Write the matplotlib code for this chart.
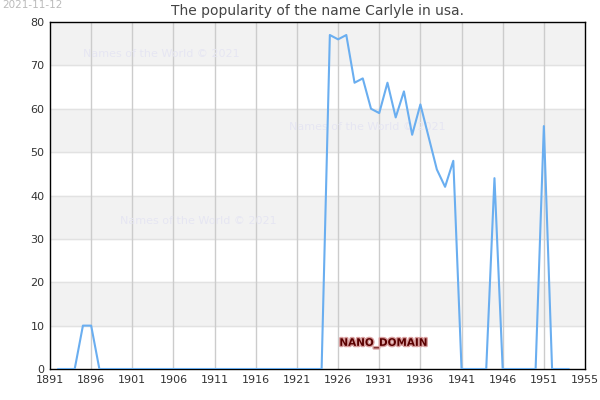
import matplotlib
matplotlib.use("Agg")
import matplotlib.pyplot as plt
import matplotlib.patheffects as pe

years = list(range(1892, 1956))
values = ([0, 0, 0, 10, 10] + [0] * 28 +
          [77, 76, 77, 66, 67, 60, 59, 66, 58, 64, 54, 61, 53.5, 46, 42, 48,
           0, 0, 0, 0, 44, 0, 0, 0, 0, 0, 56, 0, 0, 0])
years = years[:len(values)]
tick_years = [1891, 1896, 1901, 1906, 1911, 1916, 1921, 1926, 1931, 1936, 1941, 1946, 1951, 1956]
tick_labels = [str(y) for y in tick_years[:-1]] + ["1955"]

fig = plt.figure(figsize=(6, 4), dpi=100)
ax = fig.add_axes([50/600, 31/400, 535/600, 347/400])

# alternating horizontal bands
for lo in range(0, 80, 10):
    if (lo // 10) % 2 == 1:
        ax.axhspan(lo, lo + 10, color="#f2f2f2", zorder=0)
for y in range(10, 80, 10):
    ax.axhline(y, color="#e2e2e2", lw=1, zorder=0.5)
for x in tick_years[1:-1]:
    ax.axvline(x, color="#cccccc", lw=1, zorder=0.6)

ax.plot(years, values, color="#6aaef0", lw=1.5, zorder=3)

ax.set_xlim(1891, 1956)
ax.set_ylim(0, 80)
ax.set_xticks(tick_years)
ax.set_xticklabels(tick_labels)
ax.set_yticks(range(0, 81, 10))
ax.tick_params(labelsize=8, colors="#333333", length=0, pad=4)
for s in ax.spines.values():
    s.set_color("black")
    s.set_linewidth(1)

ax.set_title("The popularity of the name Carlyle in usa.", fontsize=10, color="#444444", pad=5)
fig.text(2/600, 1 - 5/400, "2021-11-12", fontsize=7.5, color="#bbbbbb", va="center")

wm = dict(fontsize=8, color="#e6e6f2", zorder=1)
ax.text(1895, 72, "Names of the World © 2021", **wm)
ax.text(1920, 55, "Names of the World © 2021", **wm)
ax.text(1899.5, 33.5, "Names of the World © 2021", **wm)

ax.text(1931.5, 6, "NANO_DOMAIN", fontsize=7.5, color="#5a0000", ha="center", va="center",
        fontweight="bold", zorder=4,
        path_effects=[pe.withStroke(linewidth=2, foreground="#d9a0a0")])

fig.savefig("out.png", dpi=100)
